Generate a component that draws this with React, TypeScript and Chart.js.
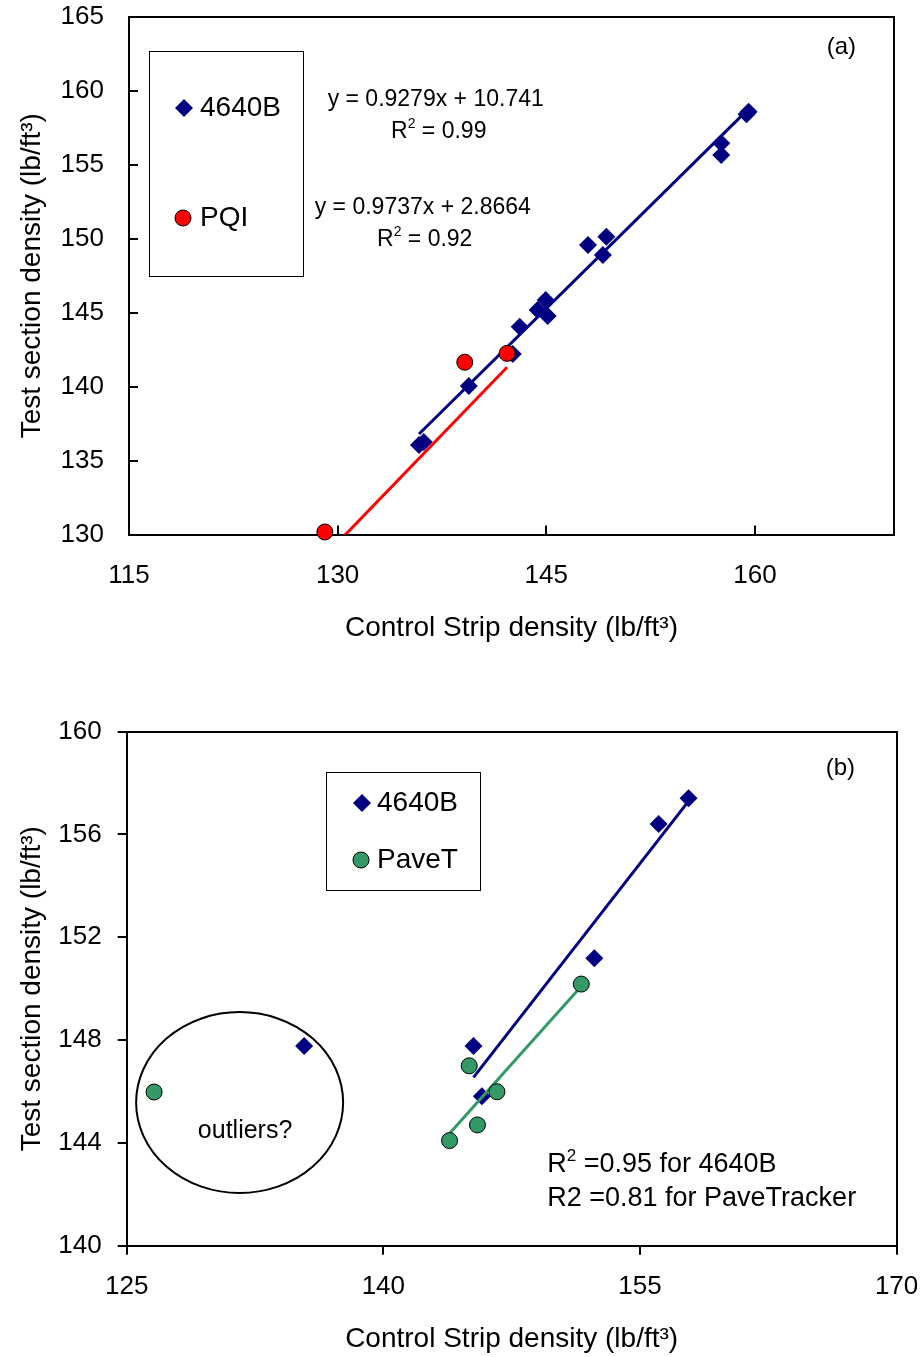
import React, { useEffect, useRef } from "react";
import { Chart, registerables } from "chart.js";
Chart.register(...registerables);

const FONT = "'Liberation Sans', Arial, Helvetica, sans-serif";
const NAVY = "#000080";
const RED = "#FF0000";
const GREEN = "#339966";

// ---------------- Chart (a) data ----------------
const A_X_RANGE = [115, 170];
const A_Y_RANGE = [130, 165];
const A_X_TICKS = [115, 130, 145, 160];
const A_Y_TICKS = [130, 135, 140, 145, 150, 155, 160, 165];
const A_4640B_X = [135.85, 136.19, 139.43, 142.59, 143.09, 144.38, 144.96, 145.1, 148.0, 149.32, 149.07, 157.58, 157.58, 159.4, 159.55];
const A_4640B_Y = [136.05, 136.26, 140.04, 142.21, 144.05, 145.18, 145.86, 144.78, 149.58, 150.14, 148.9, 156.46, 155.67, 158.42, 158.6];
const A_PQI_X = [129.08, 139.14, 142.18];
const A_PQI_Y = [130.17, 141.65, 142.25];
const A_4640B_FIT_X = [135.85, 159.55];
const A_4640B_FIT_Y = [136.8, 158.79];
const A_PQI_FIT_X = [129.08, 142.18];
const A_PQI_FIT_Y = [128.55, 141.31];

// ---------------- Chart (b) data ----------------
const B_X_RANGE = [125, 170];
const B_Y_RANGE = [140, 160];
const B_X_TICKS = [125, 140, 155, 170];
const B_Y_TICKS = [140, 144, 148, 152, 156, 160];
const B_4640B_X = [135.37, 145.27, 145.76, 152.33, 156.09, 157.84];
const B_4640B_Y = [147.77, 147.77, 145.82, 151.18, 156.41, 157.41];
const B_PAVET_X = [126.6, 145.02, 146.64, 145.5, 143.87, 151.57];
const B_PAVET_Y = [145.98, 147.0, 145.99, 144.7, 144.09, 150.18];
const B_4640B_FIT_X = [145.27, 157.84];
const B_4640B_FIT_Y = [146.55, 157.3];
const B_PAVET_FIT_X = [143.87, 151.57];
const B_PAVET_FIT_Y = [144.37, 150.1];
const B_ELLIPSE_CENTER = [131.6, 145.57];
const B_ELLIPSE_RADII = [6.05, 3.52];

const X_TITLE = "Control Strip density (lb/ft\u00B3)";
const Y_TITLE = "Test section density (lb/ft\u00B3)";

type Seg = { t: string; sup?: boolean };
type Note = { x: number; y: number; segs: Seg[]; size: number; align: "left" | "center" };
type LegendItem = { label: string; shape: "diamond" | "circle"; color: string };

const A_NOTES: Note[] = [
  { x: 137.05, y: 159.39, segs: [{ t: "y = 0.9279x + 10.741" }], size: 23, align: "center" },
  { x: 137.27, y: 157.22, segs: [{ t: "R" }, { t: "2", sup: true }, { t: " = 0.99" }], size: 23, align: "center" },
  { x: 136.12, y: 152.08, segs: [{ t: "y = 0.9737x + 2.8664" }], size: 23, align: "center" },
  { x: 136.26, y: 149.92, segs: [{ t: "R" }, { t: "2", sup: true }, { t: " = 0.92" }], size: 23, align: "center" },
  { x: 166.22, y: 162.97, segs: [{ t: "(a)" }], size: 24, align: "center" },
];
const B_NOTES: Note[] = [
  { x: 166.71, y: 158.59, segs: [{ t: "(b)" }], size: 24, align: "center" },
  { x: 131.92, y: 144.46, segs: [{ t: "outliers?" }], size: 25, align: "center" },
  { x: 149.58, y: 143.14, segs: [{ t: "R" }, { t: "2", sup: true }, { t: " =0.95 for 4640B" }], size: 27, align: "left" },
  { x: 149.58, y: 141.82, segs: [{ t: "R2 =0.81 for PaveTracker" }], size: 27, align: "left" },
];

const A_LEGEND: LegendItem[] = [
  { label: "4640B", shape: "diamond", color: NAVY },
  { label: "PQI", shape: "circle", color: RED },
];
const B_LEGEND: LegendItem[] = [
  { label: "4640B", shape: "diamond", color: NAVY },
  { label: "PaveT", shape: "circle", color: GREEN },
];

function pts(xs: number[], ys: number[]) {
  return xs.map((x, i) => ({ x, y: ys[i] }));
}

function drawRich(ctx: CanvasRenderingContext2D, segs: Seg[], x: number, y: number, size: number, align: string) {
  const supSize = Math.round(size * 0.62);
  const widths = segs.map((s) => {
    ctx.font = `${s.sup ? supSize : size}px ${FONT}`;
    return ctx.measureText(s.t).width;
  });
  const total = widths.reduce((a, b) => a + b, 0);
  let cx = align === "center" ? x - total / 2 : x;
  ctx.textAlign = "left";
  ctx.textBaseline = "middle";
  ctx.fillStyle = "#000";
  segs.forEach((s, i) => {
    ctx.font = `${s.sup ? supSize : size}px ${FONT}`;
    ctx.fillText(s.t, cx, s.sup ? y - size * 0.33 : y);
    cx += widths[i];
  });
}

function drawSymbol(ctx: CanvasRenderingContext2D, shape: string, color: string, x: number, y: number) {
  ctx.beginPath();
  if (shape === "diamond") {
    const r = 9;
    ctx.moveTo(x - r, y);
    ctx.lineTo(x, y - r);
    ctx.lineTo(x + r, y);
    ctx.lineTo(x, y + r);
    ctx.closePath();
    ctx.fillStyle = color;
    ctx.fill();
  } else {
    ctx.arc(x, y, 8, 0, Math.PI * 2);
    ctx.fillStyle = color;
    ctx.fill();
    ctx.lineWidth = 1;
    ctx.strokeStyle = "#000";
    ctx.stroke();
  }
}

type Cfg = {
  xRange: number[];
  yRange: number[];
  xTicks: number[];
  yTicks: number[];
  yWidth: number;
  xHeight: number;
  padding: { top: number; right: number; bottom: number; left: number };
  inward: boolean;
  datasets: any[];
  notes: Note[];
  legend: LegendItem[];
  legendBox: number[];
  legendSym: number[][];
  legendTextX: number;
  ellipse?: { c: number[]; r: number[] };
};

function buildChart(canvas: HTMLCanvasElement, cfg: Cfg) {
  const decor = {
    id: "decor",
    beforeDatasetsDraw(chart: any) {
      const { ctx, chartArea: a, scales } = chart;
      ctx.save();
      ctx.strokeStyle = "#000";
      ctx.lineWidth = 2;
      ctx.strokeRect(Math.round(a.left), Math.round(a.top), Math.round(a.right - a.left), Math.round(a.bottom - a.top));
      const dir = cfg.inward ? -1 : 1;
      ctx.lineWidth = 2;
      ctx.beginPath();
      scales.x.ticks.forEach((t: any) => {
        const px = Math.round(scales.x.getPixelForValue(t.value));
        ctx.moveTo(px, a.bottom);
        ctx.lineTo(px, a.bottom + dir * 9);
      });
      scales.y.ticks.forEach((t: any) => {
        const py = Math.round(scales.y.getPixelForValue(t.value));
        ctx.moveTo(a.left, py);
        ctx.lineTo(a.left - dir * 9, py);
      });
      ctx.stroke();
      ctx.restore();
    },
    afterDatasetsDraw(chart: any) {
      const { ctx, chartArea: a, scales } = chart;
      ctx.save();
      if (cfg.ellipse) {
        const cx = scales.x.getPixelForValue(cfg.ellipse.c[0]);
        const cy = scales.y.getPixelForValue(cfg.ellipse.c[1]);
        const rx = scales.x.getPixelForValue(cfg.ellipse.c[0] + cfg.ellipse.r[0]) - cx;
        const ry = cy - scales.y.getPixelForValue(cfg.ellipse.c[1] + cfg.ellipse.r[1]);
        ctx.beginPath();
        ctx.ellipse(cx, cy, rx, ry, 0, 0, Math.PI * 2);
        ctx.lineWidth = 2;
        ctx.strokeStyle = "#000";
        ctx.stroke();
      }
      const [l, t, r, b] = cfg.legendBox;
      ctx.fillStyle = "#fff";
      ctx.fillRect(a.left + l, a.top + t, r - l, b - t);
      ctx.lineWidth = 1;
      ctx.strokeStyle = "#000";
      ctx.strokeRect(Math.round(a.left + l) + 0.5, Math.round(a.top + t) + 0.5, r - l, b - t);
      cfg.legend.forEach((it, i) => {
        const [sx, sy] = cfg.legendSym[i];
        drawSymbol(ctx, it.shape, it.color, a.left + sx, a.top + sy);
        drawRich(ctx, [{ t: it.label }], a.left + cfg.legendTextX, a.top + sy, 28, "left");
      });
      cfg.notes.forEach((n) => {
        drawRich(ctx, n.segs, scales.x.getPixelForValue(n.x), scales.y.getPixelForValue(n.y), n.size, n.align);
      });
      ctx.restore();
    },
  };

  return new Chart(canvas, {
    type: "scatter",
    data: { datasets: cfg.datasets },
    options: {
      responsive: false,
      animation: false,
      events: [],
      layout: { padding: cfg.padding },
      plugins: { legend: { display: false }, tooltip: { enabled: false } },
      scales: {
        x: {
          type: "linear",
          min: cfg.xRange[0],
          max: cfg.xRange[1],
          grid: { display: false, drawTicks: false },
          border: { display: false },
          afterBuildTicks: (s: any) => {
            s.ticks = cfg.xTicks.map((v) => ({ value: v }));
          },
          afterFit: (s: any) => {
            s.height = cfg.xHeight;
            s.paddingLeft = 0;
            s.paddingRight = 0;
          },
          ticks: { color: "#000", font: { family: FONT, size: 26 }, padding: 26, maxRotation: 0, autoSkip: false },
          title: { display: true, text: X_TITLE, color: "#000", font: { family: FONT, size: 28 }, padding: { top: 0, bottom: 1 } },
        },
        y: {
          type: "linear",
          min: cfg.yRange[0],
          max: cfg.yRange[1],
          grid: { display: false, drawTicks: false },
          border: { display: false },
          afterBuildTicks: (s: any) => {
            s.ticks = cfg.yTicks.map((v) => ({ value: v }));
          },
          afterFit: (s: any) => {
            s.width = cfg.yWidth;
            s.paddingTop = 0;
            s.paddingBottom = 0;
          },
          ticks: { color: "#000", font: { family: FONT, size: 26 }, padding: 25, autoSkip: false },
          title: { display: true, text: Y_TITLE, color: "#000", font: { family: FONT, size: 28 }, padding: { top: 15, bottom: 0 } },
        },
      },
    },
    plugins: [decor],
  } as any);
}

function markers(label: string, xs: number[], ys: number[], shape: string, color: string, order: number) {
  const circle = shape === "circle";
  return {
    label,
    data: pts(xs, ys),
    showLine: false,
    pointStyle: circle ? "circle" : "rectRot",
    pointRadius: circle ? 8 : 9,
    backgroundColor: color,
    borderColor: circle ? "#000" : color,
    pointBorderWidth: circle ? 1 : 0,
    borderWidth: circle ? 1 : 0,
    clip: false,
    order,
  };
}

function fitLine(label: string, xs: number[], ys: number[], color: string, order: number) {
  return {
    label,
    data: pts(xs, ys),
    showLine: true,
    pointRadius: 0,
    borderColor: color,
    backgroundColor: color,
    borderWidth: 3,
    clip: 0,
    order,
  };
}

const CFG_A: Cfg = {
  xRange: A_X_RANGE,
  yRange: A_Y_RANGE,
  xTicks: A_X_TICKS,
  yTicks: A_Y_TICKS,
  yWidth: 129,
  xHeight: 111.5,
  padding: { top: 17, right: 30, bottom: 0, left: 0 },
  inward: true,
  datasets: [
    markers("PQI", A_PQI_X, A_PQI_Y, "circle", RED, 1),
    fitLine("PQI trend", A_PQI_FIT_X, A_PQI_FIT_Y, RED, 2),
    fitLine("4640B trend", A_4640B_FIT_X, A_4640B_FIT_Y, NAVY, 3),
    markers("4640B", A_4640B_X, A_4640B_Y, "diamond", NAVY, 4),
  ],
  notes: A_NOTES,
  legend: A_LEGEND,
  legendBox: [20, 34, 174, 259],
  legendSym: [
    [55, 91],
    [54, 201],
  ],
  legendTextX: 71,
};

const CFG_B: Cfg = {
  xRange: B_X_RANGE,
  yRange: B_Y_RANGE,
  xTicks: B_X_TICKS,
  yTicks: B_Y_TICKS,
  yWidth: 126.7,
  xHeight: 111.3,
  padding: { top: 20.7, right: 27.4, bottom: 0, left: 0 },
  inward: false,
  datasets: [
    markers("PaveT", B_PAVET_X, B_PAVET_Y, "circle", GREEN, 1),
    fitLine("PaveT trend", B_PAVET_FIT_X, B_PAVET_FIT_Y, GREEN, 2),
    fitLine("4640B trend", B_4640B_FIT_X, B_4640B_FIT_Y, NAVY, 3),
    markers("4640B", B_4640B_X, B_4640B_Y, "diamond", NAVY, 4),
  ],
  notes: B_NOTES,
  legend: B_LEGEND,
  legendBox: [199.3, 40.3, 353.3, 158.3],
  legendSym: [
    [235.3, 71.3],
    [234.3, 128.3],
  ],
  legendTextX: 250.3,
  ellipse: { c: B_ELLIPSE_CENTER, r: B_ELLIPSE_RADII },
};

export default function App() {
  const refA = useRef<HTMLCanvasElement>(null);
  const refB = useRef<HTMLCanvasElement>(null);
  useEffect(() => {
    const a = buildChart(refA.current!, CFG_A);
    const b = buildChart(refB.current!, CFG_B);
    return () => {
      a.destroy();
      b.destroy();
    };
  }, []);
  return (
    <div style={{ position: "absolute", left: 0, top: 0, width: 924, height: 1357, background: "#fff", overflow: "hidden" }}>
      <canvas ref={refA} width={924} height={646} style={{ position: "absolute", left: 0, top: 0, width: 924, height: 646 }} />
      <canvas ref={refB} width={924} height={646} style={{ position: "absolute", left: 0, top: 711, width: 924, height: 646 }} />
    </div>
  );
}
